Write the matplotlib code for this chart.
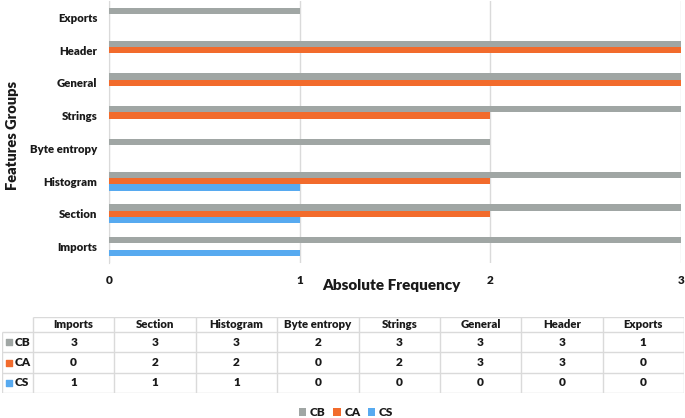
import matplotlib
matplotlib.use("Agg")
import matplotlib.pyplot as plt
from matplotlib.patches import Patch
import numpy as np

plt.rcParams['font.family'] = ['Lato', 'DejaVu Sans']
plt.rcParams['font.weight'] = 'heavy'

categories = ["Imports", "Section", "Histogram", "Byte entropy", "Strings", "General", "Header", "Exports"]
series_names = ["CB", "CA", "CS"]
cb = [3, 3, 3, 2, 3, 3, 3, 1]
ca = [0, 2, 2, 0, 2, 3, 3, 0]
cs = [1, 1, 1, 0, 0, 0, 0, 0]
x_ticks = [0, 1, 2, 3]

colors = ["#A0A6A4", "#F26B2C", "#57AAF0"]
text_c = "#1A1A1A"
grid_c = "#DADADA"
FW = "heavy"

W, H = 685, 418
fig = plt.figure(figsize=(W / 100, H / 100), dpi=100)

# ---- main bar chart ----
ax = fig.add_axes([109 / W, 1 - 263 / H, 572 / W, 262 / H])
y = np.arange(len(categories))
h = 0.193
for vals, off, col in zip([cb, ca, cs], [h, 0, -h], colors):
    ax.barh(y + off, vals, height=h, color=col, zorder=3)
ax.set_xlim(0, 3)
ax.set_ylim(-0.5, len(categories) - 0.5)
ax.set_xticks(x_ticks)
ax.set_xticklabels([str(t) for t in x_ticks], fontweight=FW)
ax.set_yticks(y)
ax.set_yticklabels(categories, fontweight=FW)
ax.xaxis.grid(True, color=grid_c, lw=1, zorder=0)
for s in ["top", "right", "bottom"]:
    ax.spines[s].set_visible(False)
ax.spines["left"].set_color(grid_c)
ax.tick_params(axis="both", length=0, colors=text_c)
ax.tick_params(axis="x", pad=9, labelsize=8.5)
ax.tick_params(axis="y", pad=8.5, labelsize=8.2)

fig.text(391 / W, 1 - 285 / H, "Absolute Frequency", ha="center", va="center",
         fontsize=11, fontweight=FW, color=text_c)
fig.text(13 / W, 1 - 136 / H, "Features Groups", ha="center", va="center",
         rotation=90, fontsize=10.5, fontweight=FW, color=text_c)

# ---- data table ----
tx0, tx1, ty0, ty1 = 2, 684, 317, 393
tax = fig.add_axes([tx0 / W, 1 - ty1 / H, (tx1 - tx0) / W, (ty1 - ty0) / H])
label_w = 31 / ((tx1 - 33) / len(categories))
tax.set_xlim(-label_w, len(categories))
row_edges = [0, 15, 35, 56, 76]
tax.set_ylim(row_edges[-1], 0)
tax.axis("off")

ncol = len(categories)
tax.hlines(row_edges[0], 0, ncol, color=grid_c, lw=1)
for e in row_edges[1:]:
    tax.hlines(e, -label_w, ncol, color=grid_c, lw=1)
tax.vlines(-label_w, row_edges[1], row_edges[-1], color=grid_c, lw=1)
for c in range(ncol + 1):
    tax.vlines(c, row_edges[0], row_edges[-1], color=grid_c, lw=1)

hdr_y = (row_edges[0] + row_edges[1]) / 2
for c, name in enumerate(categories):
    tax.text(c + 0.5, hdr_y, name, ha="center", va="center", fontsize=8.2,
             fontweight=FW, color=text_c)
for r, (name, vals, col) in enumerate(zip(series_names, [cb, ca, cs], colors)):
    yc = (row_edges[r + 1] + row_edges[r + 2]) / 2
    tax.scatter([-label_w + 0.09], [yc], marker="s", s=18, color=col, clip_on=False)
    tax.text(-label_w + 0.15, yc, name, ha="left", va="center", fontsize=8.6,
             fontweight=FW, color=text_c)
    for c, v in enumerate(vals):
        tax.text(c + 0.5, yc, str(v), ha="center", va="center", fontsize=8.6,
                 fontweight=FW, color=text_c)

# ---- legend ----
handles = [Patch(facecolor=c, edgecolor="none", label=n) for c, n in zip(colors, series_names)]
leg = fig.legend(handles=handles, loc="center", bbox_to_anchor=(346 / W, 1 - 413 / H),
                 ncol=3, frameon=False, handlelength=0.65, handleheight=0.65,
                 handletextpad=0.3, columnspacing=0.6, prop={"size": 8.6, "weight": FW})
for t in leg.get_texts():
    t.set_color(text_c)

fig.savefig("out.png", dpi=100)
